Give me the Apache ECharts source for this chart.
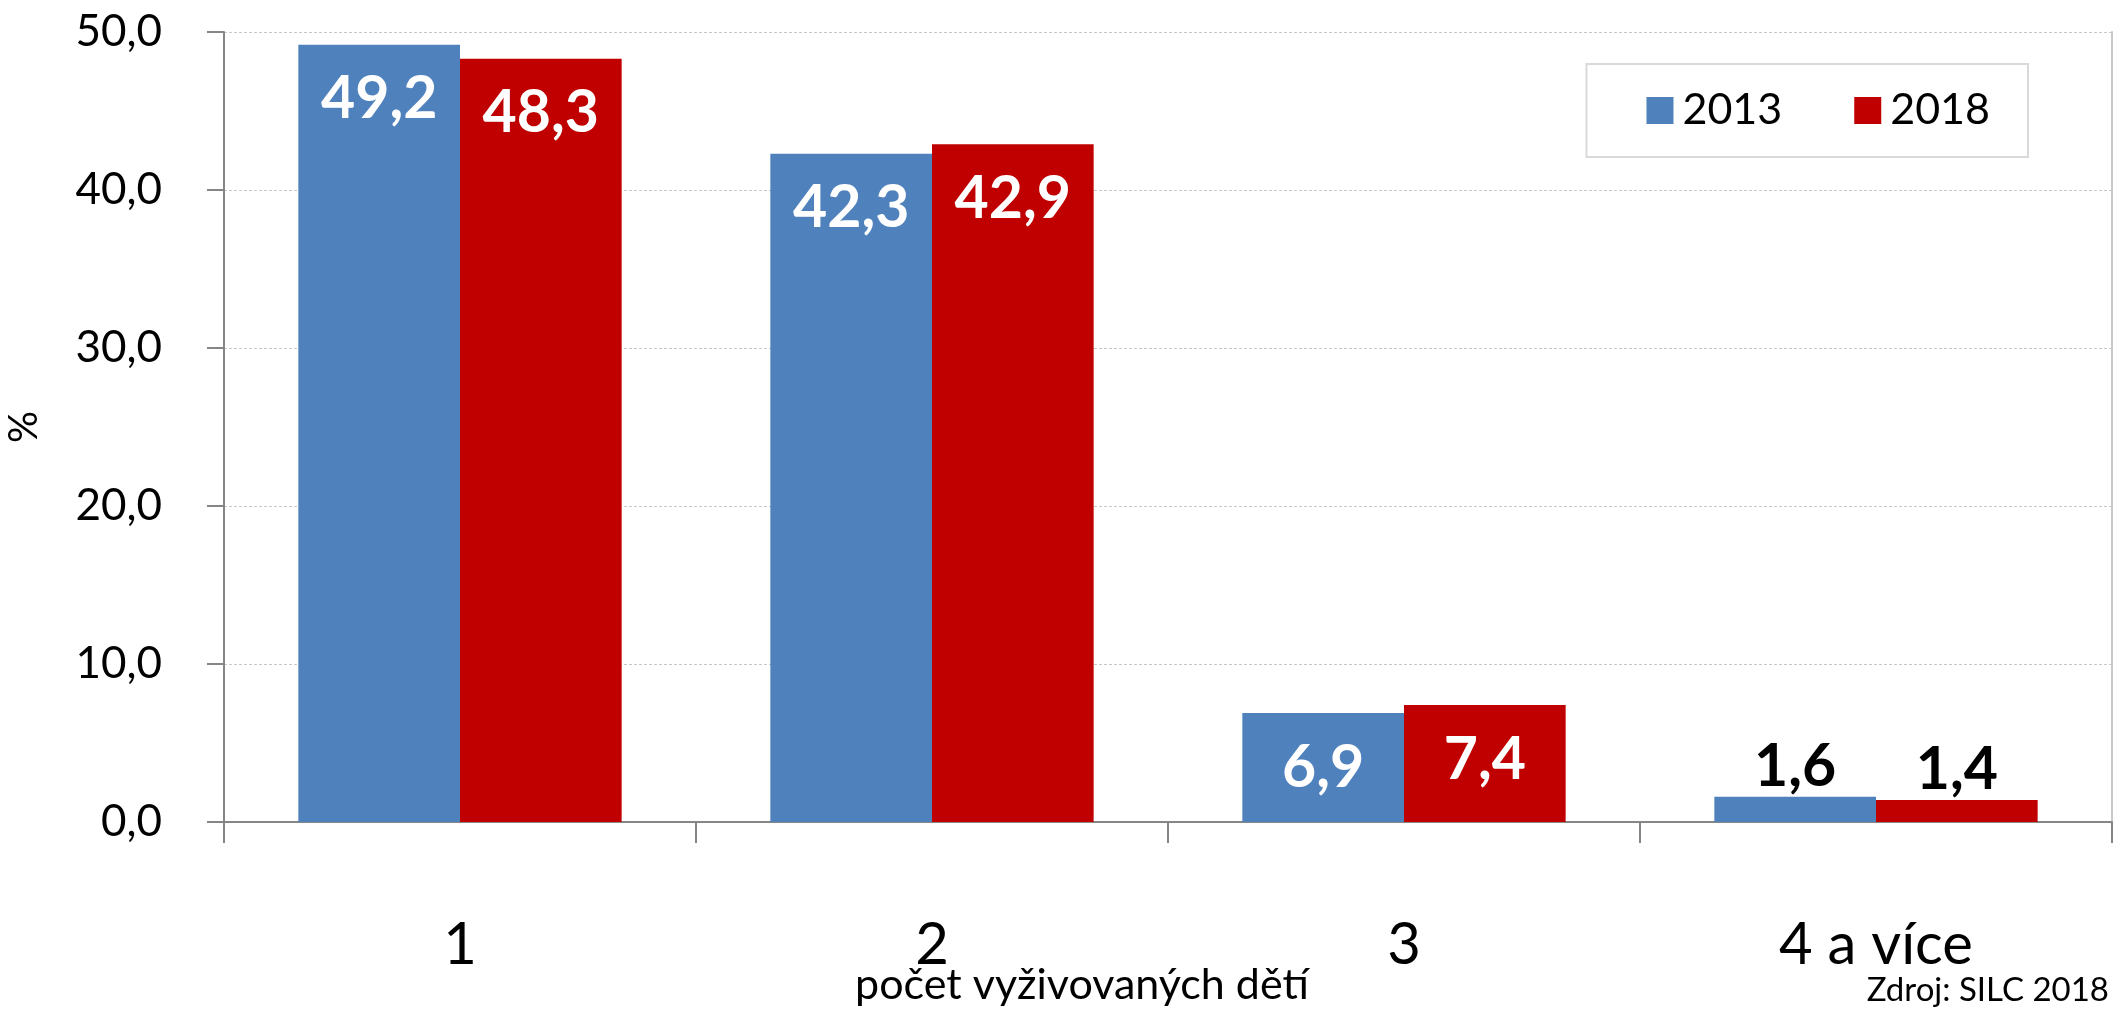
<!DOCTYPE html>
<html>
<head>
<meta charset="utf-8">
<script src="https://cdn.jsdelivr.net/npm/echarts@6/dist/echarts.min.js"></script>
<style>
  html, body { margin: 0; padding: 0; background: #fff; }
  #chart { width: 2120px; height: 1009px; }
</style>
</head>
<body>
<div id="chart"></div>
<script>
// categories and values
const categories = ['1', '2', '3', '4 a více'];
const values2013 = [49.2, 42.3, 6.9, 1.6];
const values2018 = [48.3, 42.9, 7.4, 1.4];
const yTicks = [0, 10, 20, 30, 40, 50];

const FONT = 'Lato, "Noto Sans", sans-serif';
const fmt = v => v.toFixed(1).replace('.', ',');

// small bars get a black label above, tall ones a white label inside
function labelFor(v) {
    if (v < 3) {
        return { value: v, label: { position: 'top', distance: 0, color: '#000' } };
    }
    return v;
}

const chart = echarts.init(document.getElementById('chart'));

const barLabel = {
    show: true,
    position: 'insideTop',
    distance: 25,
    color: '#fff',
    fontFamily: FONT,
    fontWeight: 'bold',
    fontSize: 59,
    lineHeight: 59,
    formatter: p => fmt(p.value)
};

const option = {
    animation: false,
    backgroundColor: '#fff',
    grid: { left: 224, right: 8, top: 32, bottom: 187, outerBoundsMode: 'none', containLabel: false },
    legend: {
        right: 92,
        top: 64,
        padding: [25, 38, 25, 60],
        itemGap: 72,
        itemWidth: 27,
        itemHeight: 27,
        borderColor: '#d9d9d9',
        borderWidth: 2,
        icon: 'rect',
        textStyle: { fontFamily: FONT, fontSize: 43, color: '#000', padding: [0, 0, 0, 4] },
        data: ['2013', '2018']
    },
    xAxis: {
        type: 'category',
        data: categories,
        name: 'počet vyživovaných dětí',
        nameLocation: 'middle',
        nameGap: 142,
        nameMoveOverlap: false,
        nameTextStyle: { fontFamily: FONT, fontSize: 43, color: '#000', padding: [0, 172, 0, 0] },
        axisLine: { lineStyle: { color: '#868686', width: 2 } },
        axisTick: { show: true, length: 21, lineStyle: { color: '#868686', width: 2 } },
        axisLabel: { fontFamily: FONT, fontSize: 58, lineHeight: 58, color: '#000', margin: 94 }
    },
    yAxis: [{
        type: 'value',
        min: yTicks[0],
        max: yTicks[yTicks.length - 1],
        interval: 10,
        name: '%',
        nameLocation: 'middle',
        nameGap: 180,
        nameMoveOverlap: false,
        nameTextStyle: { fontFamily: FONT, fontSize: 40, color: '#000' },
        axisLine: { show: true, lineStyle: { color: '#868686', width: 2 } },
        axisTick: { show: true, length: 17, lineStyle: { color: '#868686', width: 2 } },
        axisLabel: { fontFamily: FONT, fontSize: 44, color: '#000', margin: 62, formatter: v => fmt(v) },
        splitLine: { lineStyle: { color: '#c8c8c8', width: 1, type: [3, 2] } }
    }, {
        type: 'value',
        position: 'right',
        min: 0,
        max: 50,
        interval: 10,
        axisLine: { show: true, lineStyle: { color: '#c8c8c8', width: 2 } },
        axisTick: { show: false },
        axisLabel: { show: false },
        splitLine: { show: false }
    }],
    series: [{
        name: '2013',
        type: 'bar',
        data: values2013.map(labelFor),
        barGap: '0%',
        barCategoryGap: '31.5%',
        itemStyle: { color: '#4f81bd' },
        label: barLabel
    }, {
        name: '2018',
        type: 'bar',
        data: values2018.map(labelFor),
        itemStyle: { color: '#c00000' },
        label: barLabel
    }],
    graphic: [{
        type: 'text',
        right: 11,
        top: 974,
        style: { text: 'Zdroj: SILC 2018', fontFamily: FONT, fontSize: 33, fill: '#000' }
    }]
};

chart.setOption(option);
</script>
</body>
</html>
